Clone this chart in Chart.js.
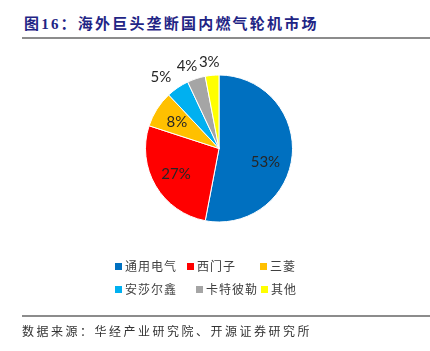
<!DOCTYPE html>
<html>
<head>
<meta charset="utf-8">
<script src="https://cdn.jsdelivr.net/npm/chart.js@4.4.0/dist/chart.umd.min.js"></script>
<style>
  html, body { margin: 0; padding: 0; background: #fff; }
  #wrap { position: relative; width: 430px; height: 351px; overflow: hidden; }
  #title { position: absolute; left: 24px; top: 12px; font: bold 15px "Liberation Serif", "Noto Sans CJK SC", serif; color: #1f2585; letter-spacing: 2.2px; white-space: nowrap; }
  .rule { position: absolute; left: 22px; right: 0; height: 2px; background: #8c8c8c; }
  #foot { position: absolute; left: 22px; top: 322px; font: 12px "Noto Sans CJK SC", sans-serif; color: #333; letter-spacing: 2.5px; white-space: nowrap; }
  .lg { position: absolute; font: 12px "Noto Sans CJK SC", sans-serif; color: #404040; letter-spacing: 1px; white-space: nowrap; line-height: 14px; }
  .sq { position: absolute; width: 7px; height: 7px; }
  canvas { position: absolute; left: 0; top: 0; }
</style>
</head>
<body>
<div id="wrap">
  <div id="title">图16：海外巨头垄断国内燃气轮机市场</div>
  <div class="rule" style="top:37px"></div>
  <canvas id="pie" width="430" height="351"></canvas>
  <div id="legend"></div>
  <div class="rule" style="top:315px"></div>
  <div id="foot">数据来源：华经产业研究院、开源证券研究所</div>
</div>
<script>
const labels = ["通用电气", "西门子", "三菱", "安莎尔鑫", "卡特彼勒", "其他"];
const shares = [53, 27, 8, 5, 4, 3];
const colors = ["#0070C0", "#FF0000", "#FFC000", "#00B0F0", "#A5A5A5", "#FFFF00"];

// legend placement (html)
const legendPos = [[115, 259], [187, 259], [260, 259], [115, 282], [196, 282], [261, 282]];
const legend = document.getElementById('legend');
labels.forEach((name, i) => {
    const [x, y] = legendPos[i];
    const sq = document.createElement('div');
    sq.className = 'sq';
    sq.style.left = x + 'px';
    sq.style.top = (y + 4) + 'px';
    sq.style.background = colors[i];
    legend.appendChild(sq);
    const t = document.createElement('div');
    t.className = 'lg';
    t.style.left = (x + 10) + 'px';
    t.style.top = y + 'px';
    t.textContent = name;
    legend.appendChild(t);
});

// percentage labels: big slices inside, small slices outside
const pctLabels = {
    id: 'pctLabels',
    afterDatasetsDraw(chart) {
        const ctx = chart.ctx;
        const arcs = chart.getDatasetMeta(0).data;
        ctx.save();
        ctx.font = '15px Lato, "Open Sans", sans-serif';
        ctx.fillStyle = '#262626';
        ctx.textAlign = 'center';
        ctx.textBaseline = 'middle';
        arcs.forEach((arc, i) => {
            const p = arc.getProps(['x', 'y', 'startAngle', 'endAngle', 'outerRadius'], true);
            const mid = (p.startAngle + p.endAngle) / 2;
            const c = Math.cos(mid), s = Math.sin(mid);
            let x, y;
            if (shares[i] >= 8) {
                const f = i === 0 ? 0.66 : 0.68;
                const a = i === 0 ? mid + 0.2 : mid;
                x = p.x + Math.cos(a) * p.outerRadius * f;
                y = p.y + Math.sin(a) * p.outerRadius * f;
            } else {
                const r = p.outerRadius + 6;
                x = p.x + c * r + c * 24;
                y = p.y + s * r + s * 7;
            }
            ctx.fillText(shares[i] + '%', x, y);
        });
        ctx.restore();
    }
};

new Chart(document.getElementById('pie'), {
    type: 'pie',
    data: {
        labels: labels,
        datasets: [{
            data: shares,
            backgroundColor: colors,
            borderColor: '#ffffff',
            borderWidth: 1
        }]
    },
    options: {
        responsive: false,
        animation: false,
        layout: { padding: { left: 145, right: 137, top: 74, bottom: 128 } },
        plugins: {
            legend: { display: false },
            tooltip: { enabled: false }
        }
    },
    plugins: [pctLabels]
});
</script>
</body>
</html>
